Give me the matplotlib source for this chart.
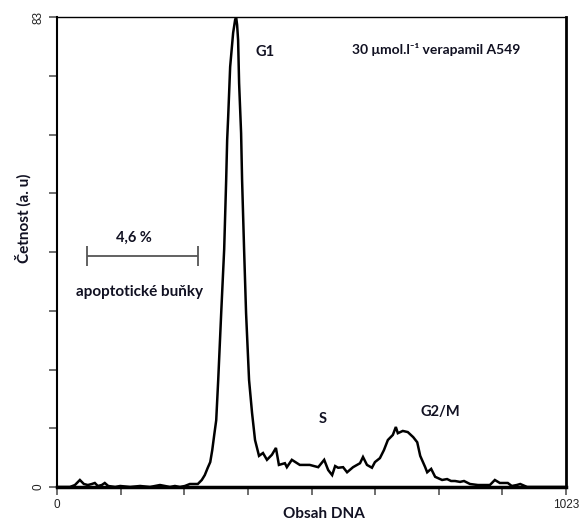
import matplotlib
matplotlib.use("Agg")
import matplotlib.pyplot as plt

# DNA content histogram (channel) and counts
dna = [0, 26, 36, 46, 54, 62, 70, 76, 82, 90, 96, 103, 117, 127, 147, 167, 187, 197, 207, 217,
       227, 237, 247, 257, 267, 283, 291, 297, 303, 308, 312, 316, 320, 324, 330, 336, 340, 342,
       344, 348, 354, 358, 360, 362, 364, 366, 370, 372, 376, 380, 386, 392, 398, 406, 414, 422,
       432, 440, 446, 458, 462, 472, 488, 508, 525, 537, 545, 553, 559, 565, 575, 583, 595, 609,
       615, 623, 633, 639, 649, 657, 665, 675, 681, 685, 695, 705, 716, 724, 730, 740, 744, 752,
       760, 774, 784, 792, 800, 810, 818, 830, 846, 860, 870, 880, 890, 900, 906, 914, 924, 931,
       945, 1023]
count = [0, 0, 0.35, 1.24, 0.53, 0.35, 0.53, 0.71, 0.18, 0.35, 0.71, 0.18, 0, 0.18, 0, 0.18, 0,
         0.18, 0.35, 0.18, 0, 0.18, 0, 0.18, 0.53, 0.53, 1.24, 2.1, 3.4, 4.4, 6.5, 9.2, 11.8,
         18.9, 30.7, 42.0, 54.2, 61.3, 65.3, 74.2, 80.2, 82.5, 83, 81.6, 78.9, 71.3, 62.5, 54.2,
         42.0, 30.7, 18.9, 13.1, 8.3, 5.5, 6.0, 4.8, 5.7, 6.9, 3.9, 4.2, 3.5, 4.8, 3.9, 3.9, 3.5,
         4.8, 3.0, 2.1, 3.7, 3.4, 3.5, 2.6, 3.5, 4.2, 5.3, 3.9, 3.4, 4.4, 5.1, 6.5, 8.3, 9.2, 10.6,
         9.5, 9.9, 9.7, 8.8, 7.9, 5.5, 3.5, 2.6, 3.2, 1.8, 1.24, 1.4, 1.06, 1.06, 0.9, 1.06, 0.53,
         0.35, 0.35, 0.35, 1.24, 0.71, 0.71, 0.71, 0.18, 0.35, 0.53, 0, 0]

x_ticks = [0, 127.875, 255.75, 383.625, 511.5, 639.375, 767.25, 895.125, 1023]
x_labels = ["0", "", "", "", "", "", "", "", "1023"]
y_ticks = [0, 10.375, 20.75, 31.125, 41.5, 51.875, 62.25, 72.625, 83]
y_labels = ["0", "", "", "", "", "", "", "", "83"]

apo_range = [61, 283]   # apoptotic cells bar
apo_level = 40.8

bold = dict(family=["Lato", "DejaVu Sans"], fontweight="bold", color="#111122")

fig = plt.figure(figsize=(5.84, 5.29), dpi=100)
ax = fig.add_axes([57 / 584, 1 - 487 / 529, 509 / 584, 470 / 529])

ax.plot(dna, count, color="black", lw=1.8, solid_joinstyle="miter")

ax.set_xlim(0, 1023)
ax.set_ylim(0, 83)
ax.set_xticks(x_ticks)
ax.set_xticklabels(x_labels, family="Liberation Sans", fontsize=8.5, color="#222222")
ax.set_yticks(y_ticks)
ax.set_yticklabels(y_labels, family="Liberation Sans", fontsize=8.5, color="#222222",
                   rotation=90, va="center")
ax.tick_params(axis="both", direction="out", length=6, width=1.2, color="#555555", pad=3)

for side, lw in [("left", 1.5), ("bottom", 2.5), ("top", 1.0), ("right", 2.0)]:
    ax.spines[side].set_linewidth(lw)
    ax.spines[side].set_color("black")

# axis titles placed where they sit in the original
fig.text(324 / 584, 1 - 514 / 529, "Obsah DNA", fontsize=11, ha="center", va="center", **bold)
fig.text(23 / 584, 1 - 218 / 529, "Četnost (a. u)", fontsize=11, rotation=90,
         ha="center", va="center", **bold)

ax.text(418, 76.8, "G1", fontsize=10.5, ha="center", va="center", **bold)
ax.text(763, 77.2, "30 μmol.l⁻¹ verapamil A549", fontsize=10, ha="center", va="center", **bold)
ax.text(534, 12.0, "S", fontsize=10.5, ha="center", va="center", **bold)
ax.text(770, 13.2, "G2/M", fontsize=10.5, ha="center", va="center", **bold)

ax.errorbar([(apo_range[0] + apo_range[1]) / 2], [apo_level],
            xerr=[(apo_range[1] - apo_range[0]) / 2], color="#555555",
            capsize=7, elinewidth=1.3, capthick=1.3)
ax.text(155, 44.0, "4,6 %", fontsize=10.5, ha="center", va="center", **bold)
ax.text(165, 34.5, "apoptotické buňky", fontsize=11, ha="center", va="center", **bold)

fig.savefig("out.png", dpi=100)
